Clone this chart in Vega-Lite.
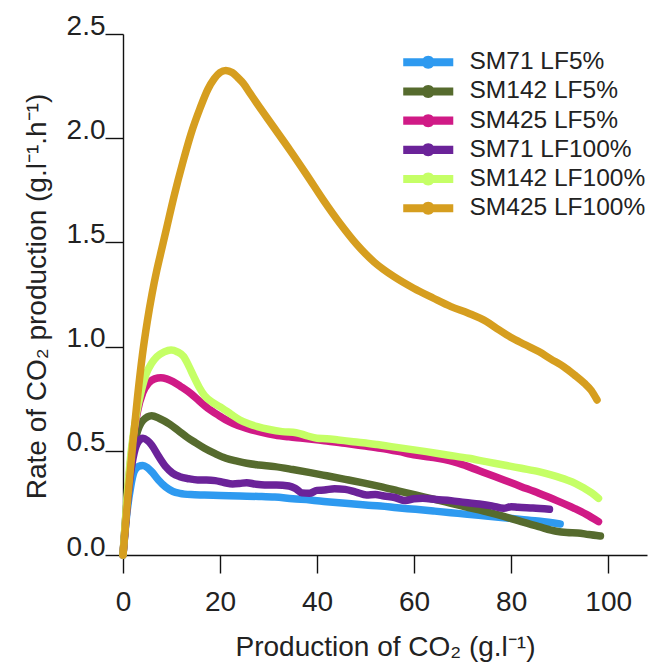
{
  "$schema": "https://vega.github.io/schema/vega-lite/v6.json",
  "width": 524,
  "height": 521,
  "autosize": {"type": "none"},
  "padding": {"left": 123, "top": 34, "right": 4, "bottom": 112},
  "background": "white",
  "config": {
    "view": {"stroke": null},
    "font": "Liberation Sans",
    "axis": {
      "grid": false,
      "domainColor": "#111",
      "domainWidth": 1.4,
      "tickColor": "#111",
      "tickWidth": 1.4,
      "tickSize": 18,
      "labelFont": "Liberation Sans",
      "labelFontSize": 28,
      "labelColor": "#222",
      "titleFont": "Liberation Sans",
      "titleFontSize": 28,
      "titleFontWeight": "normal",
      "titleColor": "#222",
      "labelFlush": false,
      "labelOverlap": false
    },
    "legend": {
      "labelFont": "Liberation Sans",
      "labelFontSize": 24.5,
      "labelColor": "#222",
      "labelLimit": 400
    }
  },
  "data": {
    "values": [
      {"s":"SM71 LF5%","x":0,"y":0},{"s":"SM71 LF5%","x":0.8,"y":0.2},{"s":"SM71 LF5%","x":1.6,"y":0.33},{"s":"SM71 LF5%","x":2.3,"y":0.4},{"s":"SM71 LF5%","x":3.2,"y":0.425},{"s":"SM71 LF5%","x":4.1,"y":0.43},{"s":"SM71 LF5%","x":5.0,"y":0.42},{"s":"SM71 LF5%","x":5.9,"y":0.4},{"s":"SM71 LF5%","x":7.3,"y":0.36},{"s":"SM71 LF5%","x":8.8,"y":0.326},{"s":"SM71 LF5%","x":10.3,"y":0.305},{"s":"SM71 LF5%","x":11.7,"y":0.296},{"s":"SM71 LF5%","x":14,"y":0.29},{"s":"SM71 LF5%","x":16.8,"y":0.288},{"s":"SM71 LF5%","x":20,"y":0.286},{"s":"SM71 LF5%","x":24.1,"y":0.283},{"s":"SM71 LF5%","x":28,"y":0.281},{"s":"SM71 LF5%","x":31.3,"y":0.278},{"s":"SM71 LF5%","x":35,"y":0.27},{"s":"SM71 LF5%","x":38.6,"y":0.264},{"s":"SM71 LF5%","x":42,"y":0.256},{"s":"SM71 LF5%","x":45.8,"y":0.248},{"s":"SM71 LF5%","x":50,"y":0.24},{"s":"SM71 LF5%","x":53.1,"y":0.235},{"s":"SM71 LF5%","x":56.5,"y":0.227},{"s":"SM71 LF5%","x":60.3,"y":0.219},{"s":"SM71 LF5%","x":64,"y":0.211},{"s":"SM71 LF5%","x":67.6,"y":0.203},{"s":"SM71 LF5%","x":71,"y":0.195},{"s":"SM71 LF5%","x":74.8,"y":0.187},{"s":"SM71 LF5%","x":78.5,"y":0.179},{"s":"SM71 LF5%","x":82.1,"y":0.171},{"s":"SM71 LF5%","x":86,"y":0.162},{"s":"SM71 LF5%","x":90.1,"y":0.149},

      {"s":"SM142 LF5%","x":0,"y":0},{"s":"SM142 LF5%","x":0.8,"y":0.25},{"s":"SM142 LF5%","x":1.7,"y":0.45},{"s":"SM142 LF5%","x":2.7,"y":0.57},{"s":"SM142 LF5%","x":4.1,"y":0.645},{"s":"SM142 LF5%","x":5.9,"y":0.668},{"s":"SM142 LF5%","x":7.5,"y":0.655},{"s":"SM142 LF5%","x":9.6,"y":0.628},{"s":"SM142 LF5%","x":11.5,"y":0.595},{"s":"SM142 LF5%","x":13.2,"y":0.565},{"s":"SM142 LF5%","x":15,"y":0.538},{"s":"SM142 LF5%","x":16.8,"y":0.512},{"s":"SM142 LF5%","x":19,"y":0.486},{"s":"SM142 LF5%","x":21.2,"y":0.464},{"s":"SM142 LF5%","x":23.5,"y":0.45},{"s":"SM142 LF5%","x":25.5,"y":0.44},{"s":"SM142 LF5%","x":28,"y":0.432},{"s":"SM142 LF5%","x":31.3,"y":0.424},{"s":"SM142 LF5%","x":35,"y":0.41},{"s":"SM142 LF5%","x":38.6,"y":0.395},{"s":"SM142 LF5%","x":42,"y":0.38},{"s":"SM142 LF5%","x":45.8,"y":0.363},{"s":"SM142 LF5%","x":49.5,"y":0.346},{"s":"SM142 LF5%","x":53.1,"y":0.328},{"s":"SM142 LF5%","x":56.7,"y":0.308},{"s":"SM142 LF5%","x":60.3,"y":0.288},{"s":"SM142 LF5%","x":64,"y":0.268},{"s":"SM142 LF5%","x":67.6,"y":0.248},{"s":"SM142 LF5%","x":71.2,"y":0.228},{"s":"SM142 LF5%","x":74.8,"y":0.208},{"s":"SM142 LF5%","x":78.5,"y":0.185},{"s":"SM142 LF5%","x":82.1,"y":0.16},{"s":"SM142 LF5%","x":85.7,"y":0.136},{"s":"SM142 LF5%","x":89.3,"y":0.114},{"s":"SM142 LF5%","x":91.5,"y":0.108},{"s":"SM142 LF5%","x":93.7,"y":0.106},{"s":"SM142 LF5%","x":96,"y":0.098},{"s":"SM142 LF5%","x":98.4,"y":0.091},

      {"s":"SM425 LF5%","x":0,"y":0},{"s":"SM425 LF5%","x":0.8,"y":0.25},{"s":"SM425 LF5%","x":1.8,"y":0.5},{"s":"SM425 LF5%","x":3.0,"y":0.69},{"s":"SM425 LF5%","x":4.1,"y":0.78},{"s":"SM425 LF5%","x":5.2,"y":0.823},{"s":"SM425 LF5%","x":6.5,"y":0.845},{"s":"SM425 LF5%","x":7.8,"y":0.85},{"s":"SM425 LF5%","x":9,"y":0.845},{"s":"SM425 LF5%","x":10.3,"y":0.832},{"s":"SM425 LF5%","x":12,"y":0.807},{"s":"SM425 LF5%","x":13.9,"y":0.776},{"s":"SM425 LF5%","x":15.7,"y":0.74},{"s":"SM425 LF5%","x":17.5,"y":0.704},{"s":"SM425 LF5%","x":19.7,"y":0.67},{"s":"SM425 LF5%","x":21.9,"y":0.64},{"s":"SM425 LF5%","x":23.7,"y":0.622},{"s":"SM425 LF5%","x":25.5,"y":0.608},{"s":"SM425 LF5%","x":28.4,"y":0.59},{"s":"SM425 LF5%","x":31.3,"y":0.576},{"s":"SM425 LF5%","x":34.2,"y":0.567},{"s":"SM425 LF5%","x":37.1,"y":0.56},{"s":"SM425 LF5%","x":41.5,"y":0.548},{"s":"SM425 LF5%","x":45.8,"y":0.536},{"s":"SM425 LF5%","x":49.5,"y":0.524},{"s":"SM425 LF5%","x":53.1,"y":0.512},{"s":"SM425 LF5%","x":56.7,"y":0.497},{"s":"SM425 LF5%","x":60.3,"y":0.48},{"s":"SM425 LF5%","x":63.2,"y":0.47},{"s":"SM425 LF5%","x":66.1,"y":0.459},{"s":"SM425 LF5%","x":68.6,"y":0.444},{"s":"SM425 LF5%","x":71.2,"y":0.424},{"s":"SM425 LF5%","x":74.8,"y":0.392},{"s":"SM425 LF5%","x":78.5,"y":0.36},{"s":"SM425 LF5%","x":82.1,"y":0.328},{"s":"SM425 LF5%","x":85.7,"y":0.296},{"s":"SM425 LF5%","x":89.3,"y":0.262},{"s":"SM425 LF5%","x":93.0,"y":0.224},{"s":"SM425 LF5%","x":95.5,"y":0.195},{"s":"SM425 LF5%","x":98.0,"y":0.16},

      {"s":"SM71 LF100%","x":0,"y":0},{"s":"SM71 LF100%","x":0.8,"y":0.22},{"s":"SM71 LF100%","x":1.5,"y":0.38},{"s":"SM71 LF100%","x":2.3,"y":0.49},{"s":"SM71 LF100%","x":3.2,"y":0.545},{"s":"SM71 LF100%","x":4.1,"y":0.56},{"s":"SM71 LF100%","x":5.0,"y":0.55},{"s":"SM71 LF100%","x":5.9,"y":0.528},{"s":"SM71 LF100%","x":7.3,"y":0.475},{"s":"SM71 LF100%","x":8.8,"y":0.424},{"s":"SM71 LF100%","x":10.2,"y":0.393},{"s":"SM71 LF100%","x":11.7,"y":0.376},{"s":"SM71 LF100%","x":13.5,"y":0.366},{"s":"SM71 LF100%","x":15.4,"y":0.36},{"s":"SM71 LF100%","x":17.2,"y":0.36},{"s":"SM71 LF100%","x":19.0,"y":0.357},{"s":"SM71 LF100%","x":20.8,"y":0.348},{"s":"SM71 LF100%","x":22.6,"y":0.341},{"s":"SM71 LF100%","x":24,"y":0.343},{"s":"SM71 LF100%","x":25.5,"y":0.347},{"s":"SM71 LF100%","x":27.3,"y":0.34},{"s":"SM71 LF100%","x":29.2,"y":0.336},{"s":"SM71 LF100%","x":31.6,"y":0.336},{"s":"SM71 LF100%","x":34.2,"y":0.331},{"s":"SM71 LF100%","x":35.5,"y":0.32},{"s":"SM71 LF100%","x":36.9,"y":0.298},{"s":"SM71 LF100%","x":38.4,"y":0.296},{"s":"SM71 LF100%","x":40,"y":0.31},{"s":"SM71 LF100%","x":41.5,"y":0.312},{"s":"SM71 LF100%","x":43.6,"y":0.318},{"s":"SM71 LF100%","x":45.8,"y":0.315},{"s":"SM71 LF100%","x":48,"y":0.302},{"s":"SM71 LF100%","x":50.2,"y":0.288},{"s":"SM71 LF100%","x":52,"y":0.29},{"s":"SM71 LF100%","x":53.8,"y":0.283},{"s":"SM71 LF100%","x":56,"y":0.276},{"s":"SM71 LF100%","x":58.2,"y":0.261},{"s":"SM71 LF100%","x":60,"y":0.27},{"s":"SM71 LF100%","x":61.8,"y":0.272},{"s":"SM71 LF100%","x":64.5,"y":0.266},{"s":"SM71 LF100%","x":67.6,"y":0.261},{"s":"SM71 LF100%","x":70.5,"y":0.252},{"s":"SM71 LF100%","x":73.4,"y":0.245},{"s":"SM71 LF100%","x":76,"y":0.236},{"s":"SM71 LF100%","x":78.5,"y":0.224},{"s":"SM71 LF100%","x":80,"y":0.232},{"s":"SM71 LF100%","x":81.4,"y":0.229},{"s":"SM71 LF100%","x":84.5,"y":0.225},{"s":"SM71 LF100%","x":87.9,"y":0.219},

      {"s":"SM142 LF100%","x":0,"y":0},{"s":"SM142 LF100%","x":0.8,"y":0.27},{"s":"SM142 LF100%","x":1.8,"y":0.52},{"s":"SM142 LF100%","x":2.8,"y":0.68},{"s":"SM142 LF100%","x":3.8,"y":0.79},{"s":"SM142 LF100%","x":4.8,"y":0.87},{"s":"SM142 LF100%","x":5.9,"y":0.92},{"s":"SM142 LF100%","x":7,"y":0.952},{"s":"SM142 LF100%","x":8.5,"y":0.975},{"s":"SM142 LF100%","x":9.9,"y":0.984},{"s":"SM142 LF100%","x":11.2,"y":0.975},{"s":"SM142 LF100%","x":12.5,"y":0.952},{"s":"SM142 LF100%","x":13.5,"y":0.91},{"s":"SM142 LF100%","x":14.6,"y":0.856},{"s":"SM142 LF100%","x":15.7,"y":0.805},{"s":"SM142 LF100%","x":16.8,"y":0.765},{"s":"SM142 LF100%","x":18.6,"y":0.73},{"s":"SM142 LF100%","x":20.5,"y":0.704},{"s":"SM142 LF100%","x":22.3,"y":0.675},{"s":"SM142 LF100%","x":24.1,"y":0.648},{"s":"SM142 LF100%","x":25.9,"y":0.63},{"s":"SM142 LF100%","x":27.7,"y":0.616},{"s":"SM142 LF100%","x":30.2,"y":0.602},{"s":"SM142 LF100%","x":32.8,"y":0.592},{"s":"SM142 LF100%","x":35.7,"y":0.587},{"s":"SM142 LF100%","x":37.8,"y":0.573},{"s":"SM142 LF100%","x":40,"y":0.56},{"s":"SM142 LF100%","x":42,"y":0.558},{"s":"SM142 LF100%","x":44.4,"y":0.552},{"s":"SM142 LF100%","x":47,"y":0.545},{"s":"SM142 LF100%","x":49.5,"y":0.539},{"s":"SM142 LF100%","x":52.4,"y":0.53},{"s":"SM142 LF100%","x":55.3,"y":0.52},{"s":"SM142 LF100%","x":58.9,"y":0.508},{"s":"SM142 LF100%","x":62.5,"y":0.496},{"s":"SM142 LF100%","x":66.8,"y":0.48},{"s":"SM142 LF100%","x":71.2,"y":0.464},{"s":"SM142 LF100%","x":74.8,"y":0.448},{"s":"SM142 LF100%","x":78.5,"y":0.432},{"s":"SM142 LF100%","x":82.1,"y":0.416},{"s":"SM142 LF100%","x":85.7,"y":0.4},{"s":"SM142 LF100%","x":88.6,"y":0.382},{"s":"SM142 LF100%","x":91.5,"y":0.36},{"s":"SM142 LF100%","x":93.3,"y":0.343},{"s":"SM142 LF100%","x":95.1,"y":0.32},{"s":"SM142 LF100%","x":96.6,"y":0.298},{"s":"SM142 LF100%","x":98.0,"y":0.272},

      {"s":"SM425 LF100%","x":0,"y":0},{"s":"SM425 LF100%","x":1,"y":0.28},{"s":"SM425 LF100%","x":2,"y":0.53},{"s":"SM425 LF100%","x":3,"y":0.76},{"s":"SM425 LF100%","x":4,"y":0.96},{"s":"SM425 LF100%","x":5,"y":1.12},{"s":"SM425 LF100%","x":6,"y":1.255},{"s":"SM425 LF100%","x":7,"y":1.37},{"s":"SM425 LF100%","x":8,"y":1.47},{"s":"SM425 LF100%","x":9,"y":1.57},{"s":"SM425 LF100%","x":10.5,"y":1.72},{"s":"SM425 LF100%","x":12.4,"y":1.89},{"s":"SM425 LF100%","x":14,"y":2.02},{"s":"SM425 LF100%","x":15.9,"y":2.145},{"s":"SM425 LF100%","x":17.5,"y":2.235},{"s":"SM425 LF100%","x":18.8,"y":2.285},{"s":"SM425 LF100%","x":20,"y":2.315},{"s":"SM425 LF100%","x":21.2,"y":2.325},{"s":"SM425 LF100%","x":22.5,"y":2.315},{"s":"SM425 LF100%","x":23.7,"y":2.29},{"s":"SM425 LF100%","x":24.8,"y":2.263},{"s":"SM425 LF100%","x":26.2,"y":2.215},{"s":"SM425 LF100%","x":27.6,"y":2.167},{"s":"SM425 LF100%","x":31.0,"y":2.055},{"s":"SM425 LF100%","x":34.4,"y":1.943},{"s":"SM425 LF100%","x":37.9,"y":1.823},{"s":"SM425 LF100%","x":41.3,"y":1.703},{"s":"SM425 LF100%","x":44.7,"y":1.592},{"s":"SM425 LF100%","x":48.2,"y":1.49},{"s":"SM425 LF100%","x":50,"y":1.445},{"s":"SM425 LF100%","x":51.8,"y":1.405},{"s":"SM425 LF100%","x":53.7,"y":1.37},{"s":"SM425 LF100%","x":55.7,"y":1.338},{"s":"SM425 LF100%","x":59.9,"y":1.28},{"s":"SM425 LF100%","x":64.0,"y":1.232},{"s":"SM425 LF100%","x":67.6,"y":1.192},{"s":"SM425 LF100%","x":71.2,"y":1.16},{"s":"SM425 LF100%","x":74.9,"y":1.12},{"s":"SM425 LF100%","x":77.5,"y":1.08},{"s":"SM425 LF100%","x":79.9,"y":1.045},{"s":"SM425 LF100%","x":82.8,"y":1.01},{"s":"SM425 LF100%","x":85.7,"y":0.976},{"s":"SM425 LF100%","x":88.2,"y":0.94},{"s":"SM425 LF100%","x":90.8,"y":0.904},{"s":"SM425 LF100%","x":93,"y":0.865},{"s":"SM425 LF100%","x":95.1,"y":0.824},{"s":"SM425 LF100%","x":96.5,"y":0.79},{"s":"SM425 LF100%","x":97.7,"y":0.744}
    ]
  },
  "mark": {"type": "line", "strokeWidth": 7.5, "interpolate": "monotone", "strokeCap": "round", "strokeJoin": "round"},
  "encoding": {
    "x": {
      "field": "x", "type": "quantitative",
      "scale": {"domain": [0, 108], "nice": false, "zero": false},
      "axis": {
        "values": [0, 20, 40, 60, 80, 100],
        "title": "Production of CO₂ (g.l⁻¹)",
        "labelPadding": 15,
        "titleBaseline": "alphabetic",
        "titleY": 100,
        "titleX": 262
      }
    },
    "y": {
      "field": "y", "type": "quantitative",
      "scale": {"domain": [0, 2.5], "nice": false},
      "axis": {
        "values": [0, 0.5, 1, 1.5, 2, 2.5],
        "format": ".1f",
        "title": "Rate of CO₂ production (g.l⁻¹.h⁻¹)",
        "labelBaseline": "alphabetic",
        "labelAlign": "right",
        "labelPadding": 0,
        "titleAngle": -90,
        "titleBaseline": "alphabetic",
        "titleX": -78,
        "titleY": 262,
        "titleAlign": "center"
      }
    },
    "color": {
      "field": "s", "type": "nominal",
      "scale": {
        "domain": ["SM71 LF5%", "SM142 LF5%", "SM425 LF5%", "SM71 LF100%", "SM142 LF100%", "SM425 LF100%"],
        "range": ["#2E9AF0", "#566B2E", "#D01A86", "#6B2399", "#C5FF66", "#D69E1F"]
      },
      "legend": {
        "title": null,
        "orient": "none",
        "legendX": 293,
        "legendY": 16,
        "padding": 0,
        "symbolType": "M-3.85,-0.62H3.85V0.62H-3.85Z M1,0A1,1 0 1,1 -1,0A1,1 0 1,1 1,0Z",
        "symbolSize": 169,
        "symbolStrokeWidth": 0,
        "labelOffset": 29,
        "labelLimit": 400,
        "rowPadding": 4.2,
        "encode": {
          "symbols": {"update": {"fill": {"scale": "color", "field": "value"}, "fillOpacity": {"value": 1}, "strokeWidth": {"value": 0}}}
        }
      }
    }
  }
}
